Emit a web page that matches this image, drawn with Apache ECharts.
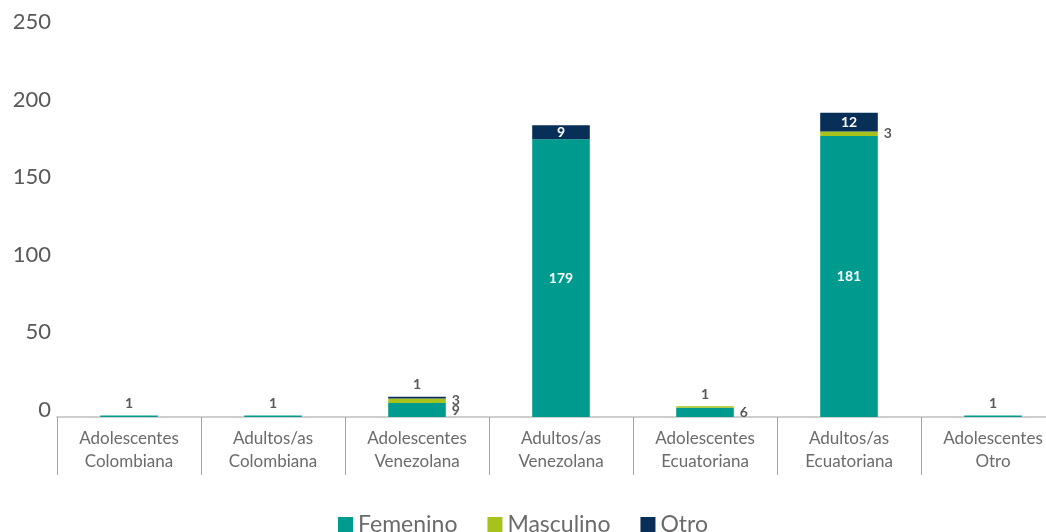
<!DOCTYPE html>
<html>
<head>
<meta charset="utf-8">
<script src="https://cdn.jsdelivr.net/npm/echarts@6/dist/echarts.min.js"></script>
<style>
  html, body { margin: 0; padding: 0; background: #fff; }
  #chart { width: 1046px; height: 532px; }
</style>
</head>
<body>
<div id="chart"></div>
<script>
// Categories (group + nationality)
const categories = [
  'Adolescentes\nColombiana',
  'Adultos/as\nColombiana',
  'Adolescentes\nVenezolana',
  'Adultos/as\nVenezolana',
  'Adolescentes\nEcuatoriana',
  'Adultos/as\nEcuatoriana',
  'Adolescentes\nOtro'
];

// Counts per sex
const femenino  = [1, 1, 9, 179, 6, 181, 1];
const masculino = [0, 0, 3, 0, 1, 3, 0];
const otro      = [0, 0, 1, 9, 0, 12, 0];

// Where each value label sits
const femPos  = ['top', 'top', 'right', 'inside', 'right', 'inside', 'top'];
const mascPos = ['top', 'top', 'right', 'top', 'top', 'right', 'top'];
const otroPos = ['top', 'top', 'top', 'inside', 'top', 'inside', 'top'];

const FONT = 'Lato, "Open Sans", sans-serif';
const colors = { fem: '#009b8f', masc: '#a7c21a', otro: '#072f57' };

function buildData(values, positions) {
  return values.map((v, i) => {
    const pos = positions[i];
    const inside = pos === 'inside';
    return {
      value: v,
      label: {
        show: v > 0,
        position: pos,
        distance: pos === 'right' ? 6 : 5,
        color: inside ? '#ffffff' : '#595959',
        fontWeight: 'bold',
        fontSize: 14,
        fontFamily: FONT
      }
    };
  });
}

function series(name, values, positions, color) {
  return {
    name: name,
    type: 'bar',
    stack: 'total',
    barWidth: '40%',
    itemStyle: { color: color },
    data: buildData(values, positions)
  };
}

const chart = echarts.init(document.getElementById('chart'));
chart.setOption({
  animation: false,
  textStyle: { fontFamily: FONT },
  // plot runs past the right edge of the canvas, 7 slots of 144px
  grid: {
    left: 57, width: 1008, top: 29, bottom: 115,
    containLabel: false,
    outerBoundsMode: 'none'
  },
  legend: {
    top: 508,
    left: 'center',
    itemWidth: 15,
    itemHeight: 15,
    itemGap: 30,
    icon: 'rect',
    textStyle: { fontSize: 23, color: '#6b6b6b', fontFamily: FONT },
    data: ['Femenino', 'Masculino', 'Otro']
  },
  xAxis: {
    type: 'category',
    data: categories,
    axisLine: { show: true, lineStyle: { color: '#bfbfbf', width: 1.5 } },
    axisTick: { show: true, length: 58, lineStyle: { color: '#a6a6a6', width: 1 } },
    axisLabel: {
      color: '#6b6b6b',
      fontSize: 17,
      lineHeight: 23,
      margin: 10,
      fontFamily: FONT,
      interval: 0
    }
  },
  yAxis: {
    type: 'value',
    min: 0,
    max: 250,
    interval: 50,
    axisLine: { show: false },
    axisTick: { show: false },
    splitLine: { show: false },
    axisLabel: {
      color: '#595959',
      fontSize: 22,
      margin: 6,
      fontFamily: FONT,
      verticalAlign: 'bottom',
      lineHeight: 14
    }
  },
  series: [
    series('Femenino', femenino, femPos, colors.fem),
    series('Masculino', masculino, mascPos, colors.masc),
    series('Otro', otro, otroPos, colors.otro)
  ]
});
</script>
</body>
</html>
